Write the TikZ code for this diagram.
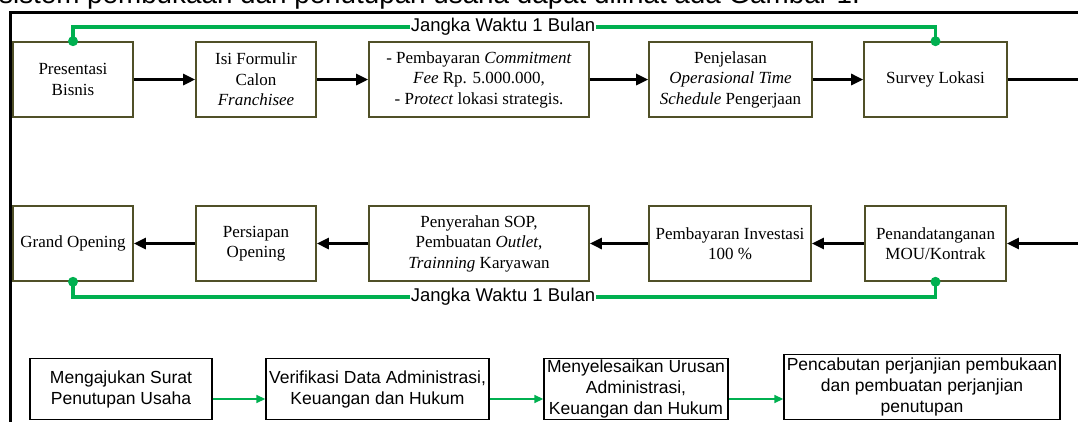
\documentclass[tikz,border=0pt]{standalone}
\usepackage{fontspec}
\setmainfont{Liberation Serif}
\setsansfont{Liberation Sans}
\usetikzlibrary{arrows.meta,calc}
\definecolor{boxline}{RGB}{80,80,40}
\definecolor{gline}{RGB}{0,176,80}
\begin{document}
\begin{tikzpicture}[x=1pt,y=-1pt,
  stepbox/.style={draw=boxline, line width=1.6pt, align=center, inner sep=2pt,
    font=\fontsize{17}{20.5}\selectfont},
  endbox/.style={draw=black, line width=1.4pt, align=center, inner sep=1pt,
    font=\sffamily\fontsize{17.5}{21}\selectfont},
  flow/.style={line width=2.6pt, -{Triangle[length=12pt,width=11pt]}},
  plainflow/.style={line width=2.6pt},
  timeline/.style={draw=gline, line width=3.2pt},
  timelabel/.style={inner xsep=1pt, inner ysep=0pt, font=\sffamily\fontsize{18.5}{20}\selectfont},
  gflow/.style={draw=gline, line width=1.6pt, -{Triangle[length=9pt,width=8pt]}},
  dot/.style={circle, fill=gline, inner sep=0pt, minimum size=10pt}
]
\useasboundingbox (0,0) rectangle (1078,421);
\clip (0,0) rectangle (1078,421);

% caption line running above the frame
\node[anchor=base west, inner sep=0pt, font=\sffamily\fontsize{27.8}{30}\selectfont]
  (caption) at (-1,3) {sistem pembukaan dan penutupan usaha dapat dilihat ada Gambar 1.};

% frame
\draw[line width=3pt] (10,440) -- (10,12) -- (1090,12);

% opening steps, first row
\node[stepbox, minimum width=120pt, minimum height=75pt] (A1) at (73,79.5) {Presentasi\\Bisnis};
\node[stepbox, minimum width=120pt, minimum height=75pt] (A2) at (256,79.5) {Isi Formulir\\Calon\\\textit{Franchisee}};
\node[stepbox, minimum width=220pt, minimum height=75pt] (A3) at (479,79.5)
  {- Pembayaran \textit{Commitment}\\\textit{Fee} Rp. 5.000.000,\\- P\textit{rotect} lokasi strategis.};
\node[stepbox, minimum width=163pt, minimum height=75pt] (A4) at (730.5,79.5)
  {Penjelasan\\\textit{Operasional Time}\\\textit{Schedule} Pengerjaan};
\node[stepbox, minimum width=143pt, minimum height=75pt] (A5) at (935.5,79.5) {Survey Lokasi};

% opening steps, second row
\node[stepbox, minimum width=120pt, minimum height=75pt] (B1) at (73,243.5) {Grand Opening};
\node[stepbox, minimum width=120pt, minimum height=75pt] (B2) at (256,243.5) {Persiapan\\Opening};
\node[stepbox, minimum width=220pt, minimum height=75pt] (B3) at (479,243.5)
  {Penyerahan SOP,\\Pembuatan \textit{Outlet},\\\textit{Trainning} Karyawan};
\node[stepbox, minimum width=162pt, minimum height=75pt] (B4) at (730,243.5) {Pembayaran Investasi\\100 \%};
\node[stepbox, minimum width=141pt, minimum height=75pt] (B5) at (935.5,243.5) {Penandatanganan\\MOU/Kontrak};

\coordinate (R1) at (1090,79.5);
\coordinate (R2) at (1090,243.5);

\draw[flow] (A1) -- (A2);
\draw[flow] (A2) -- (A3);
\draw[flow] (A3) -- (A4);
\draw[flow] (A4) -- (A5);
\draw[plainflow] (A5) -- (R1);
\draw[flow] (R2) -- (B5);
\draw[flow] (B5) -- (B4);
\draw[flow] (B4) -- (B3);
\draw[flow] (B3) -- (B2);
\draw[flow] (B2) -- (B1);

% one-month time spans
\node[timelabel] (T1) at (503,27) {Jangka Waktu 1 Bulan};
\node[timelabel] (T2) at (503,297) {Jangka Waktu 1 Bulan};
\draw[timeline] (A1.north) |- (T1.west);
\draw[timeline] (T1.east) -| (A5.north);
\draw[timeline] (B1.south) |- (T2.west);
\draw[timeline] (T2.east) -| (B5.south);
\node[dot] (d1) at (A1.north) {};
\node[dot] (d2) at (A5.north) {};
\node[dot] (d3) at (B1.south) {};
\node[dot] (d4) at (B5.south) {};

% closing steps
\node[endbox, minimum width=182pt, minimum height=61.5pt] (C1) at (121,389) {Mengajukan Surat\\Penutupan Usaha};
\node[endbox, minimum width=223pt, minimum height=61.5pt] (C2) at (377.5,389) {Verifikasi Data Administrasi,\\Keuangan dan Hukum};
\node[endbox, minimum width=184pt, minimum height=61.5pt] (C3) at (636,389) {Menyelesaikan Urusan\\Administrasi,\\Keuangan dan Hukum};
\node[endbox, minimum width=276pt, minimum height=65.5pt] (C4) at (922,387)
  {Pencabutan perjanjian pembukaan\\dan pembuatan perjanjian\\penutupan};

\draw[gflow] ([yshift=-10pt]C1.east) -- ([yshift=-10pt]C1.east -| C2.west);
\draw[gflow] ([yshift=-10pt]C2.east) -- ([yshift=-10pt]C2.east -| C3.west);
\draw[gflow] ([yshift=-10pt]C3.east) -- ([yshift=-10pt]C3.east -| C4.west);
\end{tikzpicture}
\end{document}
